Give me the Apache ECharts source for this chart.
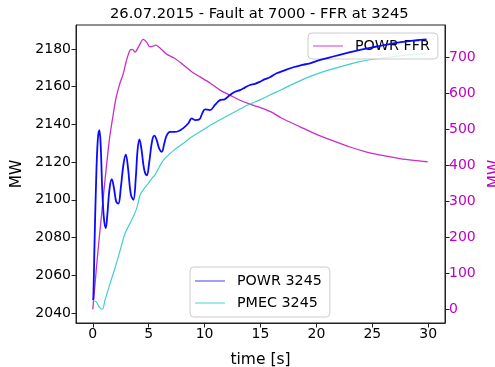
<!DOCTYPE html>
<html>
<head>
<meta charset="utf-8">
<script src="https://cdn.jsdelivr.net/npm/echarts@6/dist/echarts.min.js"></script>
<style>html,body{margin:0;padding:0;background:#fff}#c{width:495px;height:367px}</style>
</head>
<body>
<div id="c"></div>
<script>
var titleText = '26.07.2015 - Fault at 7000 - FFR at 3245';
var xTicks = [0, 5, 10, 15, 20, 25, 30];
var leftTicks = [2040, 2060, 2080, 2100, 2120, 2140, 2160, 2180];
var rightTicks = [0, 100, 200, 300, 400, 500, 600, 700];

var powrT = [0,0.05,0.15,0.3,0.45,0.59,0.7,0.85,1.0,1.16,1.3,1.5,1.7,1.9,2.1,2.29,2.5,2.75,2.95,3.15,3.4,3.63,3.85,4.0,4.17,4.35,4.6,4.83,5.05,5.3,5.5,5.7,5.95,6.17,6.4,6.6,6.91,7.3,7.7,8.1,8.55,8.85,9.14,9.5,9.8,10.04,10.48,10.93,11.38,11.8,12.27,12.72,13.16,13.6,14.06,14.5,14.95,15.4,15.85,16.44,17.2,17.93,18.7,19.42,20.0,20.61,21.5,22.5,23.89,25.4,26.86,28.3,29.85];
var powrV = [2047,2048,2075,2110,2132,2137,2130,2105,2090,2085,2092,2106,2111,2106,2099,2098,2106,2119,2124,2117,2103,2100,2112,2126,2132,2127,2116,2113,2120,2131,2134,2132,2127,2125.5,2130,2134,2136,2136,2136.5,2138,2140.6,2143.2,2142.3,2142.5,2146,2148,2147.6,2150.3,2152.9,2153.3,2155.6,2157.3,2158.2,2159.5,2160.9,2161.5,2162.6,2164,2165,2167.1,2168.8,2170.3,2171.5,2172.4,2173.6,2174.6,2176,2177.5,2179.5,2181.3,2183,2184.2,2185.1];

var pmecT = [0,0.3,0.6,0.86,1.1,1.55,2.0,2.29,2.6,2.89,3.2,3.48,3.93,4.23,4.6,4.97,5.3,5.57,5.86,6.2,6.61,7.3,8.1,8.8,9.59,10.3,11.08,11.8,12.56,13.3,14.06,14.95,15.85,16.9,17.93,19.4,20.91,22.4,23.89,25.4,26.86,28.3,29.85];
var pmecV = [2046.5,2046,2043,2042,2047,2055.7,2064,2069.9,2076.5,2082.3,2086,2089.3,2095.5,2102.6,2106,2108.8,2111.5,2113.2,2116.5,2120,2122.9,2126.5,2130,2133.2,2136.1,2138.8,2141.4,2143.8,2146.2,2148.6,2150.8,2153,2155.6,2158.5,2161.5,2165.3,2168.5,2171,2173.3,2174.8,2175.9,2176.9,2177.7];

var ffrT = [0,0.2,0.4,0.6,0.8,1.0,1.25,1.5,1.84,2.1,2.4,2.73,3.0,3.33,3.55,3.78,4.1,4.52,4.8,5.12,5.4,5.63,5.9,6.22,6.61,7.35,8.1,8.85,9.59,10.48,11.38,12.27,13.16,14.06,14.95,15.85,16.9,18.55,20.0,21.5,23.0,24.5,26.0,27.46,28.7,29.94];
var ffrV = [0,70,140,205,267,330,405,475,544,590,625,655,690,720,722,715,730,750,743,729,731,734,729,720,709,697,679,660,646,629,609,595,581,570,561,550,531,507,486,468,451,437,427,419,414,410];

function pairs(t, v) { return t.map(function (x, i) { return [x, v[i]]; }); }
function plain(v) { return String(v); }

var FONT = 'DejaVu Sans';
var MAG = '#c000c0';
var chart = echarts.init(document.getElementById('c'), null, { renderer: 'canvas' });
var legendCommon = {
  orient: 'vertical', icon: 'rect', itemWidth: 30, itemHeight: 1.5, itemGap: 8,
  backgroundColor: 'rgba(255,255,255,0.8)', borderColor: '#ccc', borderWidth: 1, borderRadius: 4,
  textStyle: { fontFamily: FONT, fontSize: 14.3, color: '#000', lineHeight: 14, padding: [0, 0, 0, 7] }
};
chart.setOption({
  animation: false,
  backgroundColor: '#fff',
  textStyle: { fontFamily: FONT },
  title: {
    text: titleText, left: 110, top: 7, padding: 0,
    textStyle: { fontFamily: FONT, fontSize: 14.7, fontWeight: 'normal', color: '#000' }
  },
  grid: { left: 76, right: 50, top: 25, bottom: 44, show: true, borderColor: '#222', borderWidth: 1,
          containLabel: false, outerBoundsMode: 'none' },
  legend: [
    Object.assign({}, legendCommon, {
      data: [{ name: 'POWR FFR', itemStyle: { color: '#e07ee0' } }],
      left: 308, top: 33, padding: [6, 8, 6, 5]
    }),
    Object.assign({}, legendCommon, {
      data: [{ name: 'POWR 3245', itemStyle: { color: '#7f7fff' } },
             { name: 'PMEC 3245', itemStyle: { color: '#86e4dc' } }],
      left: 190, top: 267, padding: [7, 8, 7, 5]
    })
  ],
  xAxis: {
    type: 'value', min: -1.5, max: 31.5,
    name: 'time [s]', nameLocation: 'middle', nameGap: 29,
    nameTextStyle: { fontFamily: FONT, fontSize: 15.5, color: '#000' },
    axisLine: { show: true, onZero: false, lineStyle: { color: '#222', width: 1 } },
    axisTick: { show: true, length: 4.5, customValues: xTicks, lineStyle: { color: '#222' } },
    axisLabel: { customValues: xTicks, formatter: plain, fontFamily: FONT, fontSize: 14, color: '#000', margin: 4 },
    splitLine: { show: false }
  },
  yAxis: [
    {
      type: 'value', min: 2034.7, max: 2192.7, position: 'left',
      name: 'MW', nameLocation: 'middle', nameGap: 44, nameRotate: 90,
      nameTextStyle: { fontFamily: FONT, fontSize: 15.5, color: '#000' },
      axisLine: { show: true, onZero: false, lineStyle: { color: '#222', width: 1 } },
      axisTick: { show: true, length: 4.5, customValues: leftTicks, lineStyle: { color: '#222' } },
      axisLabel: { customValues: leftTicks, formatter: plain, fontFamily: FONT, fontSize: 14, color: '#000', margin: 5 },
      splitLine: { show: false }
    },
    {
      type: 'value', min: -38, max: 790, position: 'right',
      name: 'MW', nameLocation: 'middle', nameGap: 34, nameRotate: 90,
      nameTextStyle: { fontFamily: FONT, fontSize: 15.5, color: MAG },
      axisLine: { show: true, onZero: false, lineStyle: { color: '#222', width: 1 } },
      axisTick: { show: true, length: 4.5, customValues: rightTicks, lineStyle: { color: '#222' } },
      axisLabel: { customValues: rightTicks, formatter: plain, fontFamily: FONT, fontSize: 14, color: MAG, margin: 4 },
      splitLine: { show: false }
    }
  ],
  series: [
    { name: 'POWR FFR', type: 'line', yAxisIndex: 1, data: pairs(ffrT, ffrV), symbol: 'none', smooth: 0.3,
      lineStyle: { color: '#c82ec8', width: 1.3 }, itemStyle: { color: '#c82ec8' }, z: 2 },
    { name: 'PMEC 3245', type: 'line', yAxisIndex: 0, data: pairs(pmecT, pmecV), symbol: 'none', smooth: 0.3,
      lineStyle: { color: '#40d0cc', width: 1.2 }, itemStyle: { color: '#40d0cc' }, z: 3 },
    { name: 'POWR 3245', type: 'line', yAxisIndex: 0, data: pairs(powrT, powrV), symbol: 'none', smooth: 0.4,
      lineStyle: { color: '#0a0aff', width: 1.8 }, itemStyle: { color: '#0a0aff' }, z: 4 }
  ]
});
</script>
</body>
</html>
